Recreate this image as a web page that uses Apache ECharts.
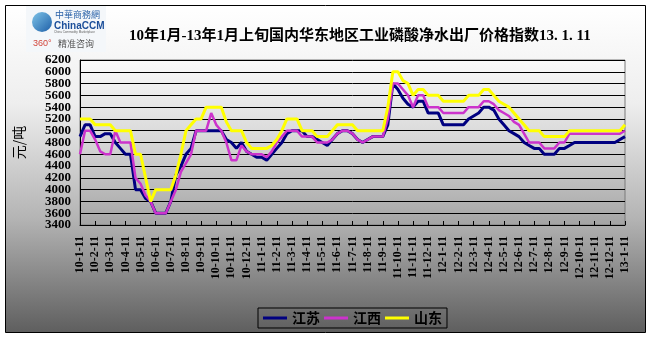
<!DOCTYPE html>
<html><head><meta charset="utf-8">
<script src="https://cdn.jsdelivr.net/npm/echarts@6/dist/echarts.min.js"></script>
<style>html,body{margin:0;padding:0;background:#fff}#c{width:651px;height:339px}</style>
</head><body><div id="c"></div>
<script>
const titleText = '10年1月-13年1月上旬国内华东地区工业磷酸净水出厂价格指数13. 1. 11';
const seriesNames = ['江苏', '江西', '山东'];
const jiangsu = [
  4900,5100,5100,4900,4900,4950,4950,4800,4700,4600,4600,4000,4000,3850,3800,3600,3600,3600,
  3800,4250,4400,4600,4700,5000,5000,5000,5000,5000,5000,4850,4800,4700,4800,4650,4600,4550,
  4550,4500,4600,4700,4800,4950,5000,5000,5000,4900,4900,4850,4800,4750,4850,4950,5000,5000,
  4950,4850,4800,4850,4900,4900,4900,5100,5800,5700,5550,5450,5400,5500,5500,5300,5300,5300,
  5100,5100,5100,5100,5100,5200,5250,5300,5400,5400,5350,5200,5100,5000,4950,4900,4800,4750,
  4700,4700,4600,4600,4600,4700,4700,4750,4800,4800,4800,4800,4800,4800,4800,4800,4800,4850,
  4900
];
const jiangxi = [
  4600,5000,5000,4850,4650,4600,4600,5000,4800,4800,4800,4200,4100,3900,3800,3600,3600,3600,
  3800,4000,4300,4450,4600,5000,5000,5000,5300,5100,5000,4800,4500,4500,4750,4650,4600,4600,
  4600,4550,4650,4800,4900,5000,5000,5000,4900,4900,4900,4800,4800,4800,4850,4950,5000,5000,
  4950,4850,4800,4850,4900,4900,4900,5200,5800,5800,5700,5600,5400,5600,5600,5400,5400,5400,
  5300,5300,5300,5300,5300,5400,5400,5400,5500,5500,5450,5350,5300,5250,5150,5100,4950,4800,
  4800,4800,4700,4700,4700,4800,4800,4950,4950,4950,4950,4950,4950,4950,4950,4950,4950,4950,
  5000
];
const shandong = [
  5200,5200,5200,5100,5100,5100,5100,5000,5000,5000,5000,4600,4600,4200,3800,4000,4000,4000,
  4000,4250,4600,5000,5100,5200,5200,5400,5400,5400,5400,5150,5000,5000,5000,4800,4700,4700,
  4700,4700,4750,4850,5000,5200,5200,5200,5000,5000,5000,4900,4900,4900,5000,5100,5100,5100,
  5100,5000,5000,5000,5000,5000,5000,5400,6000,6000,5850,5800,5600,5700,5700,5600,5600,5600,
  5500,5500,5500,5500,5500,5600,5600,5600,5700,5700,5600,5500,5450,5400,5300,5200,5100,5000,
  5000,5000,4900,4900,4900,4900,4900,5000,5000,5000,5000,5000,5000,5000,5000,5000,5000,5000,
  5100
];
const years = [10, 11, 12, 13];
const categories = [];
years.forEach(y => {
  for (let m = 1; m <= 12; m++) {
    if (y === 13 && m > 1) break;
    const last = new Date(2000 + y, m, 0).getDate();
    const days = (y === 13) ? [11] : [11, 21, last];
    days.forEach(d => categories.push(y + '-' + m + '-' + d));
  }
});

const chart = echarts.init(document.getElementById('c'), null, {renderer: 'canvas'});
const LG = echarts.graphic.LinearGradient;
const yLabelStyle = {fontSize: 13, fontWeight: 'bold', fontFamily: 'Liberation Serif', color: '#000', margin: 9, formatter: v => String(v)};
chart.setOption({
  animation: false,
  title: {
    text: titleText, left: 124, top: 24,
    textStyle: {fontSize: 15, fontWeight: 'bold', color: '#000', fontFamily: 'Liberation Serif, Noto Sans CJK SC'}
  },
  graphic: [
    {type: 'rect', z: -10, shape: {x: 5.5, y: 5.5, width: 640, height: 327},
     style: {stroke: '#000', lineWidth: 1,
       fill: new LG(0, 0, 0, 1, [{offset: 0, color: '#ffffff'}, {offset: 0.3, color: '#eeeeee'}, {offset: 0.65, color: '#b4b4b4'}, {offset: 1, color: '#5e5e5e'}])}},
    {type: 'rect', z: -9, shape: {x: 80, y: 60, width: 545, height: 165},
     style: {fill: new LG(0, 0, 0, 1, [{offset: 0, color: '#fbfbfb'}, {offset: 0.5, color: '#d6d6d6'}, {offset: 1, color: '#a4a4a4'}])}},
    {type: 'rect', z: -8, shape: {x: 26, y: 6, width: 80, height: 46}, style: {fill: '#f4f7fa'}},
    {type: 'circle', z: -7, shape: {cx: 42, cy: 22, r: 10},
     style: {fill: new LG(0, 0, 1, 1, [{offset: 0, color: '#7fc4e8'}, {offset: 1, color: '#1e5fa8'}])}},
    {type: 'text', z: -6, style: {x: 55, y: 10, text: '中華商務網', fontSize: 9, fill: '#2a62a8', fontFamily: 'Noto Sans CJK SC'}},
    {type: 'text', z: -6, style: {x: 54, y: 21, text: 'ChinaCCM', fontSize: 10, fontWeight: 'bold', fill: '#1c4f9a', fontFamily: 'Liberation Sans'}},
    {type: 'text', z: -6, style: {x: 54, y: 31, text: 'China Commodity Marketplace', fontSize: 3, fill: '#666'}},
    {type: 'text', z: -6, style: {x: 33, y: 39, text: '360°', fontSize: 9, fill: '#d2463c', fontFamily: 'Liberation Sans'}},
    {type: 'text', z: -6, style: {x: 58, y: 39, text: '精准咨询', fontSize: 9, fill: '#555', fontFamily: 'Noto Sans CJK SC'}}
  ],
  legend: {
    data: seriesNames, left: 258, top: 308, icon: 'rect', itemWidth: 24, itemHeight: 3, itemGap: 4,
    padding: [3, 5], borderColor: '#000', borderWidth: 1,
    textStyle: {fontSize: 14, fontWeight: 'bold', color: '#000', fontFamily: 'Noto Sans CJK SC'}
  },
  grid: {left: 80, right: 26, top: 60, bottom: 114, show: true, backgroundColor: 'transparent', borderColor: '#7a7a7a', borderWidth: 1},
  xAxis: {
    type: 'category', data: categories, boundaryGap: false,
    axisLine: {lineStyle: {color: '#000', width: 1}},
    axisTick: {inside: true, length: 4, interval: 2, lineStyle: {color: '#000'}},
    axisLabel: {interval: 2, rotate: 90, fontSize: 12, fontWeight: 'bold', fontFamily: 'Liberation Serif', color: '#000', margin: 11},
    splitLine: {show: false}
  },
  yAxis: [
    {
      type: 'value', min: 3400, max: 6200, interval: 200,
      name: '元/吨', nameLocation: 'middle', nameGap: 54, nameRotate: 90,
      nameTextStyle: {fontSize: 14, color: '#000', fontFamily: 'Noto Sans CJK SC'},
      axisLine: {show: true, lineStyle: {color: '#000'}},
      axisTick: {show: false},
      axisLabel: Object.assign({showMinLabel: false, showMaxLabel: false}, yLabelStyle),
      splitLine: {lineStyle: {color: '#000', width: 1}}
    },
    {
      type: 'value', min: 3400, max: 6200, interval: 2800, position: 'left',
      axisLine: {show: false}, axisTick: {show: false}, splitLine: {show: false},
      axisLabel: Object.assign({showMinLabel: true, showMaxLabel: true}, yLabelStyle)
    }
  ],
  series: [
    {name: seriesNames[0], type: 'line', data: jiangsu, showSymbol: false, symbol: 'none', color: '#000080', lineStyle: {width: 3, color: '#000080'}},
    {name: seriesNames[1], type: 'line', data: jiangxi, showSymbol: false, symbol: 'none', color: '#cc33cc', lineStyle: {width: 2.5, color: '#cc33cc'}},
    {name: seriesNames[2], type: 'line', data: shandong, showSymbol: false, symbol: 'none', color: '#ffff00', lineStyle: {width: 3, color: '#ffff00'}}
  ]
});
</script></body></html>
